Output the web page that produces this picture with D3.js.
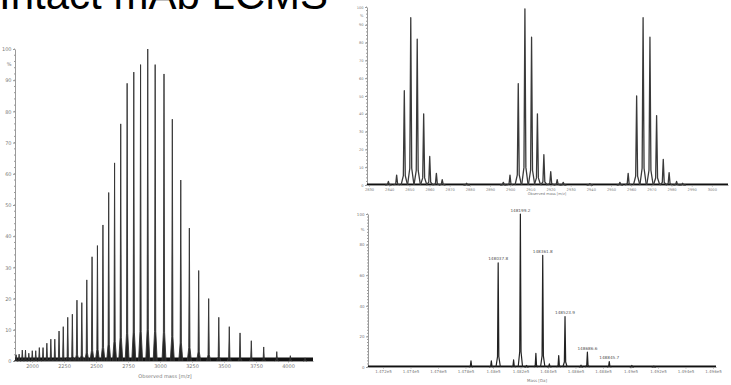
<!DOCTYPE html>
<html>
<head>
<meta charset="utf-8">
<script src="https://cdn.jsdelivr.net/npm/d3@7"></script>
<style>
  body { margin: 0; background: #fff; }
  svg { display: block; }
  .axis text { fill: #7a7a7a; font-family: "DejaVu Sans", Arial, sans-serif; }
  .axis line, .axis path { stroke: #9a9a9a; }
</style>
</head>
<body>
<script>
const W = 731, H = 385;

// charge state envelope, observed m/z (left)
const envMz = [1876, 1899, 1924, 1949, 1975, 2002, 2029, 2057, 2086, 2116, 2147, 2178,
  2211, 2244, 2279, 2315, 2351, 2389, 2428, 2469, 2511, 2554, 2599, 2645, 2693, 2743,
  2795, 2848, 2904, 2962, 3031, 3096, 3162, 3229, 3302, 3380, 3459, 3541, 3625, 3713,
  3810, 3912, 4018, 4133];
const envInt = [2.0, 2.2, 3.5, 3.5, 2.5, 3.3, 3.3, 4.3, 4.3, 5.7, 7, 7,
  9.6, 11, 14, 15, 19.5, 18.7, 26, 33.4, 37, 43.6, 54, 63.5, 76, 89,
  92.6, 95, 100, 95, 92, 77.5, 58, 42.6, 29, 20, 14, 11, 9, 6.5,
  4.5, 3, 1.7, 1];
const envTicks = [2000, 2250, 2500, 2750, 3000, 3250, 3500, 3750, 4000];

// zoom on three charge states (top right)
const zoomMz = [2839.6, 2843.7, 2847.5, 2850.7, 2853.9, 2857.1, 2860.1, 2863.4, 2866.3, 2878.4,
  2896.6, 2899.9, 2904.0, 2907.3, 2910.6, 2913.5, 2916.7, 2920.1, 2923.3, 2926.3, 2939.5,
  2954.4, 2958.5, 2962.7, 2965.9, 2969.3, 2972.6, 2975.9, 2978.8, 2982.5, 2985.5];
const zoomInt = [2, 5.6, 53, 94, 82, 40, 16, 6.5, 3, 1,
  1.5, 5.6, 57, 99, 83, 40, 17, 7.5, 3, 1.5, 0.8,
  1.5, 6.5, 50, 94, 83, 39, 14.4, 7, 2, 1];
const zoomTicks = [2830, 2840, 2850, 2860, 2870, 2880, 2890, 2900, 2910, 2920,
  2930, 2940, 2950, 2960, 2970, 2980, 2990, 3000];

// deconvoluted mass (bottom right)
const decMass = [147840, 147988, 148037.8, 148150, 148199.2, 148244, 148312, 148361.8,
  148410, 148478, 148523.9, 148640, 148686.6, 148845.7, 149010, 149170];
const decInt = [4, 4, 68, 4.6, 100, 1, 9, 73, 2, 7.5, 33, 1.2, 9.7, 3.5, 1, 0.5];
const decLabel = ["", "", "148037.8", "", "148199.2", "", "", "148361.8",
  "", "", "148523.9", "", "148686.6", "148845.7", "", ""];
const decTicks = [147200, 147400, 147600, 147800, 148000, 148200, 148400, 148600,
  148800, 149000, 149200, 149400, 149600];
const decTickLabels = ["1.472e5", "1.474e5", "1.476e5", "1.478e5", "1.48e5", "1.482e5",
  "1.484e5", "1.486e5", "1.488e5", "1.49e5", "1.492e5", "1.494e5", "1.496e5"];

const yTicksTen = [0, 10, 20, 30, 40, 50, 60, 70, 80, 90, 100];
const yTicksTwenty = [0, 20, 40, 60, 80, 100];

const svg = d3.select("body").append("svg")
  .attr("width", W).attr("height", H);

// slide title, cropped at the top edge like the source slide
svg.append("text")
  .attr("x", -1).attr("y", 8.5)
  .style("font-family", "'Liberation Sans', Arial, sans-serif")
  .style("font-size", "42px")
  .attr("fill", "#000")
  .text("Intact mAb LCMS");

function drawPanel(p) {
  const g = svg.append("g");
  const x = d3.scaleLinear().domain(p.xDomain).range(p.xRange);
  const y = d3.scaleLinear().domain([0, 100]).range(p.yRange);

  const yAxis = g.append("g").attr("class", "axis")
    .attr("transform", `translate(${p.xRange[0]},0)`)
    .call(d3.axisLeft(y).tickValues(p.yTicks).tickSize(2).tickSizeOuter(0)
      .tickPadding(1.5).tickFormat(d3.format("d")));
  yAxis.selectAll("text").style("font-size", p.font + "px");
  // minor ticks
  yAxis.append("g").selectAll("line").data(d3.range(0, 101, 2)).join("line")
    .attr("x1", -1).attr("x2", 0).attr("y1", d => y(d)).attr("y2", d => y(d));
  yAxis.append("text").attr("x", -3.5).attr("y", y(p.pct)).attr("dy", "0.32em")
    .attr("text-anchor", "end").attr("fill", "#7a7a7a")
    .style("font-size", p.font + "px").text("%");

  const xAxis = g.append("g").attr("class", "axis")
    .attr("transform", `translate(0,${p.yRange[0]})`)
    .call(d3.axisBottom(x).tickValues(p.xTicks).tickSize(1.5).tickSizeOuter(0)
      .tickPadding(1.5).tickFormat(p.xFormat));
  xAxis.selectAll("text").style("font-size", p.font + "px");
  xAxis.append("text")
    .attr("x", p.titleX).attr("y", p.titleDy)
    .attr("text-anchor", "middle").attr("fill", "#7a7a7a")
    .style("font-size", p.font + "px")
    .text(p.title);

  // baseline noise band
  g.append("line")
    .attr("x1", p.xRange[0]).attr("x2", p.xRange[1])
    .attr("y1", y(0) - p.band / 2).attr("y2", y(0) - p.band / 2)
    .attr("stroke", "#111").attr("stroke-width", p.band);

  const line = d3.line();
  g.append("g").selectAll("path").data(d3.zip(p.mz, p.int)).join("path")
    .attr("d", ([m, v]) => line([
      [x(m) - p.w, y(0)],
      [x(m) - p.w * 0.3, y(v * 0.1)],
      [x(m), y(v)],
      [x(m) + p.w * 0.3, y(v * 0.1)],
      [x(m) + p.w, y(0)]
    ]))
    .attr("fill", p.fill)
    .attr("stroke", p.stroke)
    .attr("stroke-width", p.sw)
    .attr("stroke-linejoin", "round");

  if (p.labels) {
    g.append("g").selectAll("text")
      .data(d3.zip(p.mz, p.int, p.labels).filter(d => d[2]))
      .join("text")
      .attr("x", d => x(d[0])).attr("y", d => y(d[1]) - 2.5)
      .attr("text-anchor", "middle")
      .style("font-family", "'DejaVu Sans', Arial, sans-serif")
      .style("font-size", "4.2px").attr("fill", "#555")
      .text(d => d[2]);
  }
  return { x, y };
}

drawPanel({
  xDomain: [1867, 4195], xRange: [15, 313], yRange: [361, 49],
  yTicks: yTicksTen, pct: 95, font: 5,
  xTicks: envTicks, xFormat: d3.format("d"),
  title: "Observed mass [m/z]", titleX: 165, titleDy: 17,
  mz: envMz, int: envInt, w: 2, band: 3.5,
  fill: "#222", stroke: "#333", sw: 0.9
});

drawPanel({
  xDomain: [2829, 3008], xRange: [367, 728], yRange: [185, 7],
  yTicks: yTicksTen, pct: 95, font: 3.6,
  xTicks: zoomTicks, xFormat: d3.format("d"),
  title: "Observed mass [m/z]", titleX: 547, titleDy: 10,
  mz: zoomMz, int: zoomInt, w: 3.2, band: 1.5,
  fill: "none", stroke: "#3a3a3a", sw: 1.3
});

drawPanel({
  xDomain: [147091, 149622], xRange: [368, 716], yRange: [367, 214],
  yTicks: yTicksTwenty, pct: 90, font: 4,
  xTicks: decTicks, xFormat: (d, i) => decTickLabels[i],
  title: "Mass [Da]", titleX: 537, titleDy: 15,
  mz: decMass, int: decInt, labels: decLabel, w: 2.2, band: 1.4,
  fill: "none", stroke: "#222", sw: 1.2
});
</script>
</body>
</html>
